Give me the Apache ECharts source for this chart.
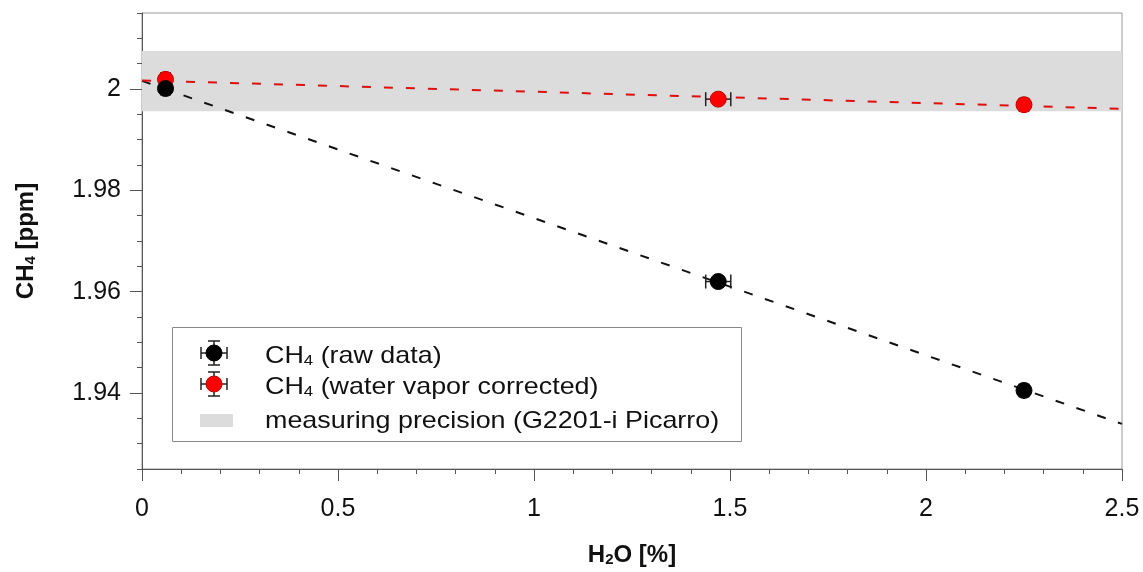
<!DOCTYPE html>
<html>
<head>
<meta charset="utf-8">
<title>CH4 vs H2O</title>
<script src="https://cdn.jsdelivr.net/npm/echarts@6/dist/echarts.min.js"></script>
<style>
  html, body { margin: 0; padding: 0; background: #fff; }
  #chart { width: 1143px; height: 572px; }
</style>
</head>
<body>
<div id="chart"></div>
<script>
// Water vapour content of the sample (x) and measured CH4 mole fraction (y)
const h2o        = [0.06, 1.47, 2.25];
const h2oErr     = [0.012, 0.032, 0.012];
const ch4Raw     = [2.0001, 1.9620, 1.9405];
const ch4RawErr  = [0.0004, 0.0004, 0.0004];
const ch4Corr    = [2.0019, 1.9980, 1.9969];
const ch4CorrErr = [0.0004, 0.0004, 0.0004];

// Linear fits (end points at x = 0 and x = 2.5)
const fitRaw  = [[0, 2.0016], [2.5, 1.9339]];
const fitCorr = [[0, 2.0017], [2.5, 1.9961]];

// Instrument precision band around the dry value
const precisionBand = [1.9956, 2.0075];

// Axis ranges and labelled ticks
const xRange = [0, 2.5];
const xStep = 0.5;
const yRange = [1.925, 2.015];
const yMinorStep = 0.005;
const yLabelValues = [1.94, 1.96, 1.98, 2.0];

const FONT = '"Liberation Sans", Arial, sans-serif';
const TEXT = '#111';
const AXIS = '#555';

const chart = echarts.init(document.getElementById('chart'), null, { renderer: 'canvas' });

function errorBarData(xs, ys, exs, eys) {
  return xs.map((x, i) => [x, ys[i], exs[i], eys[i]]);
}

function renderErrorBars(params, api) {
  const x = api.value(0), y = api.value(1), ex = api.value(2), ey = api.value(3);
  const l = api.coord([x - ex, y]);
  const r = api.coord([x + ex, y]);
  const t = api.coord([x, y + ey]);
  const b = api.coord([x, y - ey]);
  const cap = 7;
  const st = { stroke: '#222', lineWidth: 1.5 };
  return {
    type: 'group',
    children: [
      { type: 'line', shape: { x1: l[0], y1: l[1], x2: r[0], y2: r[1] }, style: st },
      { type: 'line', shape: { x1: l[0], y1: l[1] - cap, x2: l[0], y2: l[1] + cap }, style: st },
      { type: 'line', shape: { x1: r[0], y1: r[1] - cap, x2: r[0], y2: r[1] + cap }, style: st },
      { type: 'line', shape: { x1: t[0], y1: t[1], x2: b[0], y2: b[1] }, style: st },
      { type: 'line', shape: { x1: t[0] - cap, y1: t[1], x2: t[0] + cap, y2: t[1] }, style: st },
      { type: 'line', shape: { x1: b[0] - cap, y1: b[1], x2: b[0] + cap, y2: b[1] }, style: st }
    ]
  };
}

const richMain = {
  m: { fontFamily: FONT, fontSize: 24, color: TEXT, fill: TEXT, lineHeight: 30, verticalAlign: 'bottom' },
  s: { fontFamily: FONT, fontSize: 15, color: TEXT, fill: TEXT, lineHeight: 15, verticalAlign: 'bottom' }
};
const richBold = {
  m: { fontFamily: FONT, fontSize: 24, fontWeight: 'bold', color: TEXT, lineHeight: 30, verticalAlign: 'bottom' },
  s: { fontFamily: FONT, fontSize: 15, fontWeight: 'bold', color: TEXT, lineHeight: 15, verticalAlign: 'bottom' }
};

// Legend drawn as a boxed panel with error-bar glyphs
function errorGlyph(cx, cy, fill, stroke) {
  const st = { stroke: '#222', lineWidth: 1.5 };
  const h = 13, v = 12, cap = 6;
  return [
    { type: 'line', shape: { x1: cx - h, y1: cy, x2: cx + h, y2: cy }, style: st },
    { type: 'line', shape: { x1: cx - h, y1: cy - cap, x2: cx - h, y2: cy + cap }, style: st },
    { type: 'line', shape: { x1: cx + h, y1: cy - cap, x2: cx + h, y2: cy + cap }, style: st },
    { type: 'line', shape: { x1: cx, y1: cy - v, x2: cx, y2: cy + v }, style: st },
    { type: 'line', shape: { x1: cx - cap, y1: cy - v, x2: cx + cap, y2: cy - v }, style: st },
    { type: 'line', shape: { x1: cx - cap, y1: cy + v, x2: cx + cap, y2: cy + v }, style: st },
    { type: 'circle', shape: { cx: cx, cy: cy, r: 8 }, style: { fill: fill, stroke: stroke, lineWidth: 1 } }
  ];
}

function legendText(x, y, text) {
  return {
    type: 'text', x: x, y: y, scaleX: 1.12,
    style: { text: text, rich: richMain, fill: TEXT, font: '24px ' + FONT, verticalAlign: 'middle', align: 'left' }
  };
}

const legendPanel = {
  type: 'group',
  z: 100,
  children: [
    { type: 'rect', shape: { x: 172.5, y: 327.5, width: 569, height: 114 },
      style: { fill: '#fff', stroke: '#888', lineWidth: 1 } },
    ...errorGlyph(214, 353, '#000', '#000'),
    ...errorGlyph(214, 384, '#ff0000', '#c00000'),
    { type: 'rect', shape: { x: 200, y: 414, width: 33, height: 13 }, style: { fill: '#dcdcdc' } },
    legendText(265, 353, '{m|CH}{s|4}{m| (raw data)}'),
    legendText(265, 384, '{m|CH}{s|4}{m| (water vapor corrected)}'),
    legendText(265, 418, '{m|measuring precision (G2201-i Picarro)}')
  ]
};

const option = {
  animation: false,
  backgroundColor: '#fff',
  grid: {
    left: 142, right: 21, top: 13, bottom: 99,
    show: true, borderColor: '#999', borderWidth: 1, backgroundColor: 'transparent'
  },
  xAxis: {
    type: 'value',
    min: xRange[0], max: xRange[1], interval: xStep,
    name: '{m|H}{s|2}{m|O [%]}',
    nameLocation: 'middle', nameGap: 68,
    nameTextStyle: { rich: richBold },
    axisLine: { show: true, onZero: false, lineStyle: { color: AXIS, width: 1 } },
    axisTick: { show: true, inside: false, length: 12, lineStyle: { color: AXIS } },
    minorTick: { show: true, splitNumber: 5, length: 5, lineStyle: { color: AXIS } },
    splitLine: { show: false },
    axisLabel: {
      margin: 28, color: TEXT, fontFamily: FONT, fontSize: 25,
      formatter: v => String(+v.toFixed(2))
    }
  },
  yAxis: [
    {
      type: 'value', position: 'left',
      min: yRange[0], max: yRange[1], interval: yMinorStep,
      name: '{m|CH}{s|4}{m| [ppm]}',
      nameLocation: 'middle', nameGap: 104,
      nameTextStyle: { rich: richBold },
      axisLine: { show: true, onZero: false, lineStyle: { color: AXIS, width: 1 } },
      axisTick: { show: true, inside: false, length: 12, customValues: yLabelValues, lineStyle: { color: AXIS } },
      splitLine: { show: false },
      axisLabel: {
        margin: 21, color: TEXT, fontFamily: FONT, fontSize: 25,
        customValues: yLabelValues,
        formatter: v => String(+(+v).toFixed(2))
      }
    },
    {
      type: 'value', position: 'left', offset: 0,
      min: yRange[0], max: yRange[1], interval: yMinorStep,
      axisLine: { show: false },
      axisTick: { show: true, inside: false, length: 5, lineStyle: { color: AXIS } },
      axisLabel: { show: false },
      splitLine: { show: false }
    }
  ],
  series: [
    {
      name: 'measuring precision (G2201-i Picarro)',
      type: 'line', data: [], z: 1, silent: true,
      markArea: {
        silent: true,
        itemStyle: { color: '#dcdcdc' },
        data: [[{ yAxis: precisionBand[0] }, { yAxis: precisionBand[1] }]]
      }
    },
    {
      name: 'fit raw', type: 'line', data: fitRaw, z: 2,
      showSymbol: false, symbol: 'none', silent: true,
      lineStyle: { color: '#111', width: 2, type: [9, 13] }
    },
    {
      name: 'fit corrected', type: 'line', data: fitCorr, z: 2,
      showSymbol: false, symbol: 'none', silent: true,
      lineStyle: { color: '#e01010', width: 2, type: [9, 13] }
    },
    {
      name: 'err corrected', type: 'custom', z: 3,
      renderItem: renderErrorBars,
      encode: { x: 0, y: 1 },
      data: errorBarData(h2o, ch4Corr, h2oErr, ch4CorrErr)
    },
    {
      name: 'err raw', type: 'custom', z: 3,
      renderItem: renderErrorBars,
      encode: { x: 0, y: 1 },
      data: errorBarData(h2o, ch4Raw, h2oErr, ch4RawErr)
    },
    {
      name: 'CH4 (water vapor corrected)', type: 'scatter', z: 4,
      symbol: 'circle', symbolSize: 16,
      itemStyle: { color: '#ff0000', borderColor: '#c00000', borderWidth: 1, opacity: 1 },
      data: h2o.map((x, i) => [x, ch4Corr[i]])
    },
    {
      name: 'CH4 (raw data)', type: 'scatter', z: 5,
      symbol: 'circle', symbolSize: 16,
      itemStyle: { color: '#000', borderColor: '#000', borderWidth: 1, opacity: 1 },
      data: h2o.map((x, i) => [x, ch4Raw[i]])
    }
  ],
  graphic: [legendPanel]
};

chart.setOption(option);
</script>
</body>
</html>
